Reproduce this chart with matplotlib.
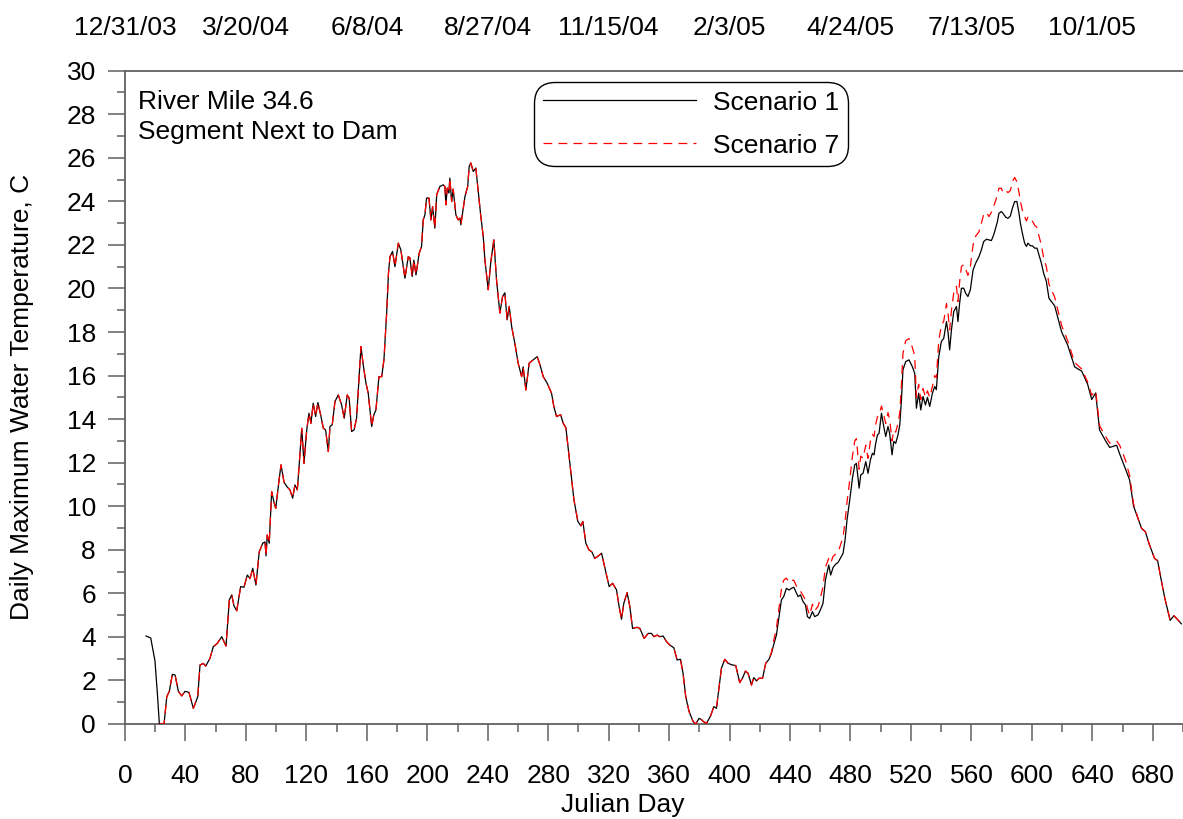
import numpy as np
import matplotlib.pyplot as plt
from matplotlib.ticker import MultipleLocator, FixedLocator, FixedFormatter
from matplotlib.lines import Line2D

plt.rcParams["font.family"] = ["Liberation Sans", "DejaVu Sans"]

# Scenario 1: julian day vs daily maximum water temperature (C)
s1_day = [
    13.9, 17.0, 19.8, 21.4, 22.7, 25.8, 27.6, 29.3, 31.3, 33.1, 35.3, 37.5, 39.7, 42.3, 45.2,
    48.1, 49.6, 51.8, 53.4, 56.2, 58.4, 61.0, 64.0, 66.8, 69.0, 70.6, 72.1, 73.9, 76.5, 78.7,
    80.9, 82.7, 84.5, 86.6, 88.8, 91.1, 92.6, 93.3, 94.1, 95.4, 97.0, 98.5, 99.7, 101.9, 103.2,
    105.2, 107.1, 109.1, 110.9, 112.4, 114.0, 115.3, 116.9, 118.4, 120.2, 121.7, 123.0, 124.5, 126.1, 127.6,
    129.4, 131.2, 132.7, 134.5, 135.6, 137.1, 138.9, 141.1, 143.3, 145.0, 147.0, 148.3, 149.9, 151.5, 153.2,
    156.1, 157.6, 159.4, 160.9, 163.2, 164.6, 166.0, 168.0, 169.8, 171.3, 173.1, 174.3, 175.3, 177.0, 178.6,
    180.8, 182.5, 185.2, 187.4, 188.5, 190.0, 191.1, 192.5, 194.6, 196.2, 197.3, 198.4, 199.5, 201.1, 202.4,
    203.5, 205.0, 206.2, 208.3, 210.5, 211.6, 212.3, 213.2, 214.3, 214.9, 216.1, 217.1, 218.9, 220.4, 221.6,
    222.2, 223.3, 224.9, 226.7, 227.7, 228.8, 230.4, 232.1, 233.7, 235.3, 237.0, 238.1, 240.3, 241.9, 244.0,
    245.8, 248.0, 249.8, 251.3, 252.8, 254.2, 255.8, 257.9, 260.1, 262.4, 263.4, 265.2, 267.4, 270.0, 272.7,
    274.5, 276.7, 279.3, 282.2, 283.7, 285.5, 288.2, 289.9, 291.7, 294.3, 297.0, 299.6, 301.6, 302.9, 304.9,
    306.9, 308.9, 310.8, 312.8, 315.3, 316.8, 318.1, 320.3, 322.6, 325.2, 326.9, 328.5, 330.0, 332.2, 334.0,
    335.8, 338.8, 340.6, 343.5, 346.1, 348.3, 349.9, 352.1, 353.8, 356.0, 358.3, 360.4, 363.1, 365.3, 367.5,
    369.2, 371.0, 373.2, 375.9, 377.6, 379.8, 381.4, 382.9, 384.7, 387.4, 389.6, 391.3, 393.1, 394.6, 396.8,
    399.0, 401.3, 404.1, 406.7, 408.5, 410.5, 412.2, 414.5, 416.0, 417.8, 419.5, 421.8, 423.9, 426.1, 427.7,
    429.4, 431.0, 432.1, 434.3, 435.8, 437.6, 439.4, 440.9, 442.5, 443.8, 445.3, 446.9, 448.6, 450.2, 451.5,
    453.0, 454.8, 456.3, 458.5, 460.1, 461.8, 463.4, 465.6, 466.9, 468.5, 470.2, 471.8, 473.3, 475.1, 476.4,
    477.7, 479.5, 481.3, 482.8, 483.9, 485.7, 486.8, 488.3, 490.1, 491.6, 493.2, 494.5, 495.6, 496.5, 497.8,
    498.9, 500.5, 502.0, 503.3, 504.8, 505.9, 507.5, 508.6, 509.9, 511.4, 512.6, 513.7, 514.7, 516.5, 518.7,
    520.9, 522.5, 523.6, 525.1, 526.5, 528.0, 529.6, 530.9, 532.4, 534.2, 535.7, 536.8, 538.4, 540.1, 541.7,
    543.5, 544.6, 545.6, 546.8, 548.3, 550.1, 551.1, 552.2, 553.4, 554.9, 556.2, 557.7, 559.3, 561.1, 562.8,
    565.0, 566.6, 568.1, 569.9, 571.6, 573.2, 574.3, 575.4, 577.2, 578.2, 579.8, 580.9, 582.7, 584.2, 585.8,
    587.1, 588.6, 590.1, 591.5, 592.4, 593.7, 595.2, 596.4, 597.4, 599.0, 600.3, 601.9, 603.4, 604.7, 606.3,
    607.8, 609.6, 611.3, 615.1, 619.7, 623.7, 628.3, 633.0, 636.9, 639.6, 642.2, 644.8, 648.8, 651.5, 656.1,
    658.1, 662.0, 664.7, 667.3, 670.6, 672.6, 675.1, 677.5, 681.2, 683.2, 685.4, 687.8, 691.5, 694.0, 696.4,
    698.9,
]
s1_temp = [
    4.04, 3.95, 2.90, 1.40, 0.00, 0.00, 1.25, 1.50, 2.28, 2.25, 1.50, 1.29, 1.50, 1.45, 0.72,
    1.25, 2.71, 2.78, 2.66, 3.02, 3.55, 3.70, 4.01, 3.58, 5.70, 5.93, 5.42, 5.20, 6.31, 6.28,
    6.84, 6.68, 7.15, 6.38, 7.91, 8.30, 8.36, 7.72, 8.68, 8.30, 10.67, 10.20, 9.90, 11.20, 11.90,
    11.10, 10.90, 10.75, 10.37, 10.98, 10.75, 11.97, 13.58, 11.97, 13.50, 14.27, 13.81, 14.73, 14.12, 14.76,
    14.20, 13.58, 13.50, 12.51, 13.66, 13.74, 14.81, 15.11, 14.65, 14.04, 15.11, 14.96, 13.43, 13.50, 14.04,
    17.33, 16.49, 15.65, 15.19, 13.66, 14.20, 14.42, 15.95, 15.95, 16.72, 18.87, 20.70, 21.46, 21.70, 21.00,
    22.08, 21.77, 20.47, 21.46, 21.40, 20.55, 21.30, 20.62, 21.62, 21.93, 23.15, 23.38, 24.15, 24.15, 23.15,
    23.76, 22.77, 24.30, 24.68, 24.76, 24.68, 23.84, 24.61, 24.38, 25.07, 23.99, 24.56, 23.38, 23.15, 23.23,
    22.92, 23.46, 24.22, 24.68, 25.60, 25.76, 25.37, 25.53, 24.45, 23.38, 22.38, 21.31, 19.94, 21.16, 22.23,
    20.39, 18.87, 19.63, 19.80, 18.56, 19.17, 18.25, 17.49, 16.57, 15.95, 16.40, 15.34, 16.57, 16.72, 16.87,
    16.50, 15.95, 15.65, 15.19, 14.58, 14.12, 14.20, 13.81, 13.60, 12.00, 10.30, 9.30, 9.10, 9.30, 8.30,
    8.00, 7.90, 7.60, 7.70, 7.84, 7.38, 7.00, 6.31, 6.46, 6.16, 5.39, 4.81, 5.54, 6.03, 5.39,
    4.39, 4.44, 4.39, 3.93, 4.16, 4.16, 4.01, 4.08, 4.01, 4.04, 3.78, 3.63, 3.50, 2.94, 2.97,
    2.33, 1.25, 0.57, 0.11, 0.00, 0.26, 0.20, 0.10, 0.03, 0.37, 0.80, 0.72, 1.71, 2.56, 2.97,
    2.79, 2.72, 2.68, 1.90, 2.10, 2.43, 2.33, 1.79, 2.13, 1.98, 2.10, 2.10, 2.79, 2.97, 3.25,
    3.70, 4.09, 4.63, 5.70, 5.85, 6.23, 6.15, 6.23, 6.28, 6.08, 5.85, 5.93, 5.62, 5.47, 4.93,
    4.85, 5.16, 4.93, 5.01, 5.24, 5.54, 6.61, 7.30, 6.84, 7.19, 7.34, 7.42, 7.61, 7.84, 8.45,
    9.37, 10.29, 11.29, 11.90, 11.97, 10.83, 11.44, 11.51, 12.05, 11.51, 12.13, 12.43, 12.36, 12.82, 13.27,
    13.35, 14.27, 13.66, 13.20, 13.66, 13.35, 12.36, 12.97, 12.89, 13.27, 13.73, 14.88, 16.26, 16.64, 16.72,
    16.41, 16.10, 14.50, 15.19, 14.42, 15.04, 14.65, 15.00, 14.58, 15.19, 15.50, 15.35, 16.87, 17.56, 17.71,
    18.48, 17.95, 17.18, 18.10, 18.94, 19.17, 18.48, 19.32, 20.01, 20.01, 19.78, 19.63, 19.94, 20.85, 21.16,
    21.46, 21.77, 22.15, 22.26, 22.23, 22.20, 22.38, 22.61, 23.07, 23.45, 23.53, 23.45, 23.27, 23.22, 23.33,
    23.68, 23.99, 23.99, 23.45, 23.00, 22.54, 22.08, 21.93, 22.08, 21.96, 21.96, 21.85, 21.85, 21.54, 21.16,
    20.70, 20.32, 19.55, 19.20, 18.00, 17.40, 16.40, 16.20, 15.60, 14.90, 15.20, 13.50, 13.00, 12.70, 12.80,
    12.40, 11.70, 11.20, 10.00, 9.37, 8.98, 8.83, 8.29, 7.60, 7.50, 6.68, 5.83, 4.76, 4.97, 4.80,
    4.60,
]

# Scenario 7: same as scenario 1 from day 22.7 on, except during the 2005 warm-up,
# where the dashed curve runs above it
s7_first_day = 22.7
s7_mid_day = [
    427.7, 429.4, 431.0, 432.1, 434.3, 435.8, 437.6, 439.4, 440.9, 442.5, 443.8, 445.3, 446.9, 448.6, 450.2,
    451.5, 453.0, 454.8, 456.3, 458.5, 460.1, 461.8, 463.4, 465.6, 466.9, 468.5, 470.2, 471.8, 473.3, 475.1,
    476.4, 477.7, 479.5, 481.3, 482.8, 483.9, 485.7, 486.8, 488.3, 490.1, 491.6, 493.2, 494.5, 495.6, 496.5,
    497.8, 498.9, 500.5, 502.0, 503.3, 504.8, 505.9, 507.5, 508.6, 509.9, 511.4, 512.6, 513.7, 514.7, 516.5,
    518.7, 520.9, 522.5, 523.6, 525.1, 526.5, 528.0, 529.6, 530.9, 532.4, 534.2, 535.7, 536.8, 538.4, 540.1,
    541.7, 543.5, 544.6, 545.6, 546.8, 548.3, 550.1, 551.1, 552.2, 553.4, 554.9, 556.2, 557.7, 559.3, 561.1,
    562.8, 565.0, 566.6, 568.1, 569.9, 571.6, 573.2, 574.3, 575.4, 577.2, 578.2, 579.8, 580.9, 582.7, 584.2,
    585.8, 587.1, 588.6, 590.1, 591.5, 592.4, 593.7, 595.2, 596.4, 597.4, 599.0, 600.3, 601.9, 603.4, 604.7,
    606.3, 607.8, 609.6, 611.3, 615.1, 619.7, 623.7, 628.3, 633.0, 636.9, 639.6, 642.2, 644.8, 648.8, 651.5,
    656.1, 658.1, 662.0, 664.7, 667.3,
]
s7_mid_temp = [
    3.30, 3.90, 4.40, 5.00, 6.20, 6.60, 6.70, 6.50, 6.60, 6.60, 6.40, 6.20, 6.10, 5.90, 5.70,
    5.30, 5.00, 5.50, 5.20, 5.40, 5.80, 6.30, 7.20, 7.60, 7.40, 7.70, 7.80, 7.90, 8.20, 8.60,
    9.30, 10.20, 11.20, 12.30, 13.00, 13.10, 11.70, 12.30, 12.20, 12.80, 12.20, 13.00, 13.30, 13.20, 13.70,
    14.10, 14.20, 14.60, 14.20, 13.80, 14.30, 14.00, 13.00, 13.50, 13.40, 13.80, 14.30, 15.60, 17.00, 17.60,
    17.70, 17.30, 16.90, 15.00, 15.60, 14.90, 15.40, 15.00, 15.30, 15.00, 15.50, 16.00, 15.90, 17.60, 18.30,
    18.50, 19.30, 18.80, 18.10, 19.00, 19.80, 20.10, 19.40, 20.30, 21.00, 21.10, 20.90, 20.60, 21.00, 22.00,
    22.40, 22.60, 23.00, 23.40, 23.50, 23.30, 23.50, 23.70, 23.90, 24.30, 24.60, 24.60, 24.40, 24.50, 24.40,
    24.50, 24.90, 25.10, 24.90, 24.40, 24.00, 23.60, 23.30, 23.10, 23.30, 23.20, 23.10, 22.90, 22.80, 22.40,
    22.00, 21.40, 21.00, 20.20, 19.60, 18.30, 17.60, 16.60, 16.30, 15.70, 15.10, 15.30, 13.70, 13.20, 12.90,
    13.00, 12.80, 12.10, 11.40, 10.10,
]

top_tick_days = [0, 80, 160, 240, 320, 400, 480, 560, 640]
top_tick_dates = ["12/31/03", "3/20/04", "6/8/04", "8/27/04", "11/15/04",
                  "2/3/05", "4/24/05", "7/13/05", "10/1/05"]

d1 = np.array(s1_day)
t1 = np.array(s1_temp)
keep = (d1 >= s7_first_day) & ((d1 < s7_mid_day[0]) | (d1 > s7_mid_day[-1]))
s7_day = np.concatenate([d1[keep], s7_mid_day])
s7_temp = np.concatenate([t1[keep], s7_mid_temp])
order = np.argsort(s7_day)
s7_day, s7_temp = s7_day[order], s7_temp[order]

FS = 19
AX_COL = "#606060"

fig = plt.figure(figsize=(11.83, 8.19), dpi=100)
ax = fig.add_axes([0.1057, 0.116, 0.8943, 0.7977])

ax.plot(d1, t1, color="black", lw=0.9, zorder=3)
ax.plot(s7_day, s7_temp, color="red", lw=0.9, ls=(0, (7, 5)), zorder=4)

ax.set_xlim(0, 700)
ax.set_ylim(0, 30)
ax.xaxis.set_major_locator(MultipleLocator(40))
ax.xaxis.set_minor_locator(MultipleLocator(20))
ax.yaxis.set_major_locator(MultipleLocator(2))
ax.yaxis.set_minor_locator(MultipleLocator(1))
ax.tick_params(which="major", direction="out", length=12, width=1.1, color=AX_COL,
               labelsize=FS, top=True)
ax.tick_params(which="minor", direction="out", length=6, width=1.1, color=AX_COL, top=True)
ax.tick_params(axis="x", pad=17)
ax.tick_params(axis="y", pad=9)
for side in ("left", "bottom", "top"):
    ax.spines[side].set_color(AX_COL)
    ax.spines[side].set_linewidth(1.3)
ax.spines["right"].set_visible(False)

# date labels along the top
axt = ax.twiny()
axt.set_xlim(ax.get_xlim())
axt.xaxis.set_major_locator(FixedLocator(top_tick_days))
axt.xaxis.set_major_formatter(FixedFormatter(top_tick_dates))
axt.tick_params(axis="x", length=0, labelsize=FS, pad=22)
for side in axt.spines:
    axt.spines[side].set_visible(False)

fig.text(22 / 1183, 1 - 397 / 819, "Daily Maximum Water Temperature, C",
         rotation=90, ha="center", va="center", fontsize=FS)
fig.text(623 / 1183, 1 - 805 / 819, "Julian Day", ha="center", va="center", fontsize=FS)
fig.text(138 / 1183, 1 - 90 / 819, "River Mile 34.6\nSegment Next to Dam",
         ha="left", va="top", fontsize=FS, linespacing=1.32)

handles = [Line2D([0], [0], color="black", lw=0.9),
           Line2D([0], [0], color="red", lw=0.9, ls=(0, (7, 5)))]
leg = ax.legend(handles, ["Scenario 1", "Scenario 7"], loc="upper left",
                bbox_to_anchor=(534 / 1183, 1 - 82 / 819), bbox_transform=fig.transFigure,
                borderaxespad=0, fontsize=FS, handlelength=5.8, handletextpad=0.65,
                labelspacing=0.72, borderpad=0.33, fancybox=True, framealpha=1,
                edgecolor="black")
leg.get_frame().set_boxstyle("round", pad=0, rounding_size=0.8)
leg.get_frame().set_linewidth(1.0)

fig.savefig("out.png", dpi=100, facecolor="white")
